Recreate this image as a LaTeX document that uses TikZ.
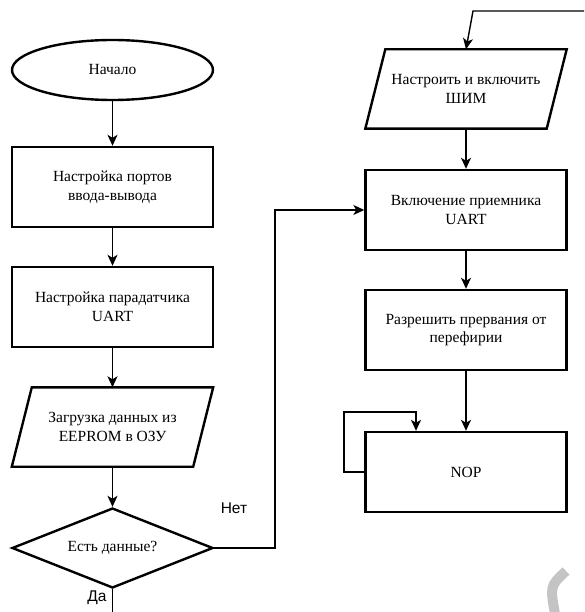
\documentclass[tikz,border=0pt]{standalone}
\usepackage{fontspec}
\setmainfont{Liberation Serif}
\newfontfamily\labelsans{Liberation Sans}
\usepackage{tikz}
\usetikzlibrary{shapes.geometric, arrows.meta}
\definecolor{markgray}{RGB}{196,196,196}

\begin{document}
\begin{tikzpicture}[x=1pt, y=-1pt,
    font=\fontsize{15.5}{18.5}\selectfont,
    procbox/.style={draw, line width=2.4pt, minimum width=201pt, minimum height=80pt, align=center, inner sep=2pt},
    iobox/.style={minimum width=201pt, minimum height=79pt, align=center, inner sep=2pt},
    startnode/.style={ellipse, draw, line width=2.4pt, minimum width=201pt, minimum height=60pt},
    decision/.style={diamond, draw, line width=2.4pt, minimum width=201pt, minimum height=80pt, aspect=2.5, inner sep=1pt},
    flowline/.style={line width=1.4pt, -{Stealth[length=11pt, width=10pt, inset=3pt]}},
    plainline/.style={line width=1.4pt}]
  \useasboundingbox (0,0) rectangle (584,612);
  % Left column
  \node[startnode] (start) at (112.5,70) {Начало};
  \node[procbox] (ports) at (112.5,187) {Настройка портов\\ввода-вывода};
  \node[procbox] (uart) at (112.5,307) {Настройка парадатчика\\UART};
  \node[iobox] (load) at (112.5,427) {Загрузка данных из\\EEPROM в ОЗУ};
  \node[decision] (check) at (112.5,548) {Есть данные?};
  \draw[flowline] (start) -- (ports);
  \draw[flowline] (ports) -- (uart);
  \draw[flowline] (uart) -- (load);
  \draw[flowline] (load) -- (check);
  % Right column
  \node[iobox] (pwm) at (466,89) {Настроить и включить\\ШИМ};
  \node[procbox] (rx) at (466,210) {Включение приемника\\UART};
  \node[procbox] (irq) at (466,330) {Разрешить прервания от\\перефирии};
  \node[procbox] (nop) at (466,472) {NOP};
  \draw[flowline] (pwm) -- (rx);
  \draw[flowline] (rx) -- (irq);
  \draw[flowline] (irq) -- (nop);
  % Slanted outlines of the data blocks
  \foreach \n in {load, pwm}
    \draw[line width=2.4pt, line join=miter] ([xshift=20pt]\n.north west) -- (\n.north east)
      -- ([xshift=-20pt]\n.south east) -- (\n.south west) -- cycle;
  % Branches
  \coordinate (nobend) at (275,210);
  \coordinate (yesend) at (112.5,612);
  \draw[flowline] (check.east) -| (nobend) -- (rx.west);
  \draw[plainline] (check.south) -- (yesend);
  \node[font=\labelsans\fontsize{15.5}{18.5}\selectfont] (nolabel) at (234,508) {Нет};
  \node[font=\labelsans\fontsize{15.5}{18.5}\selectfont] (yeslabel) at (97,598) {Да};
  % Incoming line and loop
  \coordinate (topin) at (584,11);
  \coordinate (topbend) at (473,11);
  \draw[flowline] (topin) -- (topbend) -- (pwm.north);
  \coordinate (loopcorner) at (344,412);
  \draw[flowline] (nop.west) -| (loopcorner) -| ([xshift=-50pt]nop.north);
  % Gray mark
  \draw[markgray, line width=10pt] (566,571) .. controls (550,586) .. (555,614);
\end{tikzpicture}
\end{document}
